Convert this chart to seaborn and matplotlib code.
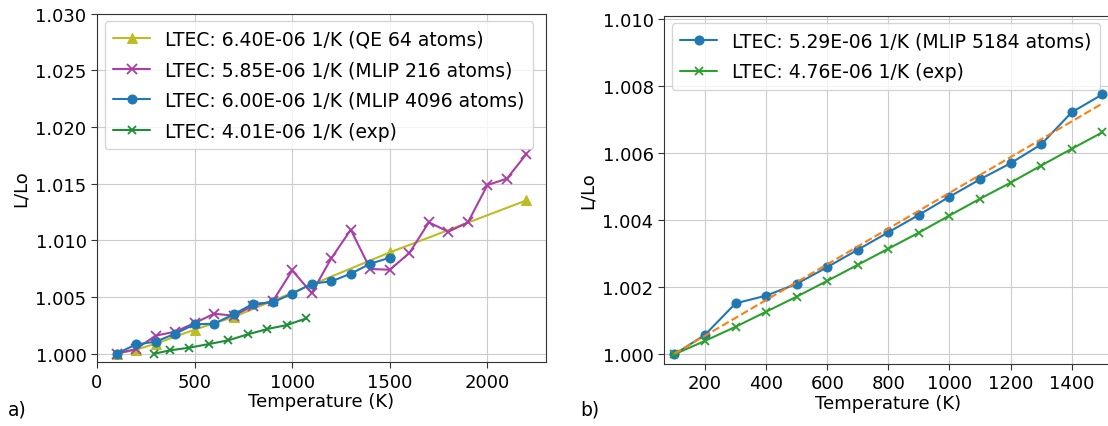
import matplotlib
matplotlib.use("Agg")
import matplotlib.pyplot as plt
import seaborn as sns
import numpy as np

# ---- data panel a ----
qe_T = [100, 200, 300, 500, 700, 1500, 2200]
qe_L = [1.0, 1.00035, 1.00088, 1.00212, 1.00324, 1.00894, 1.01353]

m216_T = [100, 200, 300, 400, 500, 600, 700, 800, 900, 1000, 1100, 1200, 1300,
          1400, 1500, 1600, 1700, 1800, 1900, 2000, 2100, 2200]
m216_L = [1.0, 1.00041, 1.00159, 1.00194, 1.0027, 1.00353, 1.00335, 1.00424,
          1.00462, 1.00735, 1.00535, 1.00841, 1.01094, 1.00747, 1.00741, 1.00888,
          1.01159, 1.01076, 1.01159, 1.01488, 1.01545, 1.01763]

m4096_T = [100, 200, 300, 400, 500, 600, 700, 800, 900, 1000, 1100, 1200, 1300, 1400, 1500]
m4096_L = [1.0, 1.00082, 1.00106, 1.00176, 1.00259, 1.00265, 1.00347, 1.00441,
           1.00453, 1.00529, 1.00618, 1.00638, 1.00706, 1.00794, 1.00847]

expa_T = [293, 373, 473, 573, 673, 773, 873, 973, 1073]
expa_L = [1.0, 1.00029, 1.00053, 1.00085, 1.00118, 1.00171, 1.00218, 1.00253, 1.00312]

labels_a = ["LTEC: 6.40E-06 1/K (QE 64 atoms)",
            "LTEC: 5.85E-06 1/K (MLIP 216 atoms)",
            "LTEC: 6.00E-06 1/K (MLIP 4096 atoms)",
            "LTEC: 4.01E-06 1/K (exp)"]

# ---- data panel b ----
m5184_T = [100, 200, 300, 400, 500, 600, 700, 800, 900, 1000, 1100, 1200, 1300, 1400, 1500]
m5184_L = [1.0, 1.00058, 1.00152, 1.00175, 1.0021, 1.0026, 1.00312, 1.00364,
           1.00416, 1.0047, 1.00522, 1.0057, 1.00626, 1.00722, 1.00775]
expb_T = [100, 200, 300, 400, 500, 600, 700, 800, 900, 1000, 1100, 1200, 1300, 1400, 1500]
expb_L = [1.0, 1.0004, 1.00082, 1.00127, 1.00172, 1.00219, 1.00267, 1.00315,
          1.00363, 1.00414, 1.00464, 1.00512, 1.00563, 1.00613, 1.00662]
fit_T = [100, 1500]
fit_L = [1.00002, 1.00748]

labels_b = ["LTEC: 5.29E-06 1/K (MLIP 5184 atoms)",
            "LTEC: 4.76E-06 1/K (exp)"]

sns.set_style("ticks", {"axes.grid": True, "grid.color": "#cccccc",
                        "axes.edgecolor": "#333333"})
plt.rcParams['font.family'] = ['DejaVu Sans']
plt.rcParams['font.size'] = 13
plt.rcParams['text.color'] = 'black'
plt.rcParams['axes.labelcolor'] = 'black'
plt.rcParams['xtick.color'] = '#333333'
plt.rcParams['ytick.color'] = '#333333'
plt.rcParams['xtick.labelcolor'] = 'black'
plt.rcParams['ytick.labelcolor'] = 'black'

fig = plt.figure(figsize=(11.08, 4.27), dpi=100)
W, H = 1108, 427
axa = fig.add_axes([97 / W, (H - 363.3) / H, 449 / W, 348.6 / H])
axb = fig.add_axes([664 / W, (H - 364.7) / H, 449 / W, 348 / H])

olive = "#bcbd22"
mag = "#a83ea6"
blue = "#1f77b4"
dgreen = "#1f8c38"
green = "#2ca02c"
orange = "#ff7f0e"

sns.lineplot(x=qe_T, y=qe_L, ax=axa, color=olive, marker="^", markersize=7,
             markeredgecolor=olive, label=labels_a[0], linewidth=1.5)
sns.lineplot(x=m216_T, y=m216_L, ax=axa, color=mag, marker="x", markersize=6.5,
             markeredgecolor=mag, markeredgewidth=1.3, label=labels_a[1], linewidth=1.5)
sns.lineplot(x=m4096_T, y=m4096_L, ax=axa, color=blue, marker="o", markersize=6.5,
             markeredgecolor=blue, label=labels_a[2], linewidth=1.5)
sns.lineplot(x=expa_T, y=expa_L, ax=axa, color=dgreen, marker="x", markersize=6,
             markeredgecolor=dgreen, markeredgewidth=1.3, label=labels_a[3], linewidth=1.5)

axa.set_xlim(0, 2300)
axa.set_ylim(0.99924, 1.030)
axa.set_xticks([0, 500, 1000, 1500, 2000])
ya = [1.000, 1.005, 1.010, 1.015, 1.020, 1.025, 1.030]
axa.set_yticks(ya)
axa.set_yticklabels([f"{v:.3f}" for v in ya])
axa.set_xlabel("Temperature (K)", fontsize=13, labelpad=1)
axa.set_ylabel("L/Lo", fontsize=13)
axa.legend(loc="upper left", fontsize=13.5, handlelength=2.0, labelspacing=0.62,
           borderaxespad=0.4, borderpad=0.45, handletextpad=0.8)

sns.lineplot(x=m5184_T, y=m5184_L, ax=axb, color=blue, marker="o", markersize=6.5,
             markeredgecolor=blue, label=labels_b[0], linewidth=1.5)
sns.lineplot(x=expb_T, y=expb_L, ax=axb, color=green, marker="x", markersize=6,
             markeredgecolor=green, markeredgewidth=1.3, label=labels_b[1], linewidth=1.5)
sns.lineplot(x=fit_T, y=fit_L, ax=axb, color=orange, linestyle="--", linewidth=1.5,
             legend=False)

axb.set_xlim(66, 1535)
axb.set_ylim(0.99972, 1.0101)
axb.set_xticks([200, 400, 600, 800, 1000, 1200, 1400])
yb = [1.000, 1.002, 1.004, 1.006, 1.008, 1.010]
axb.set_yticks(yb)
axb.set_yticklabels([f"{v:.3f}" for v in yb])
axb.set_xlabel("Temperature (K)", fontsize=13, labelpad=1)
axb.set_ylabel("L/Lo", fontsize=13)
axb.legend(loc="upper left", fontsize=13.5, handlelength=2.0, labelspacing=0.62,
           borderaxespad=0.4, borderpad=0.45, handletextpad=0.8)

for ax in (axa, axb):
    ax.tick_params(labelsize=13, length=4)

fig.text(8 / W, (H - 410) / H, "a)", fontsize=13.5, va="center")
fig.text(580 / W, (H - 410) / H, "b)", fontsize=13.5, va="center")

fig.savefig("out.png", dpi=100)
